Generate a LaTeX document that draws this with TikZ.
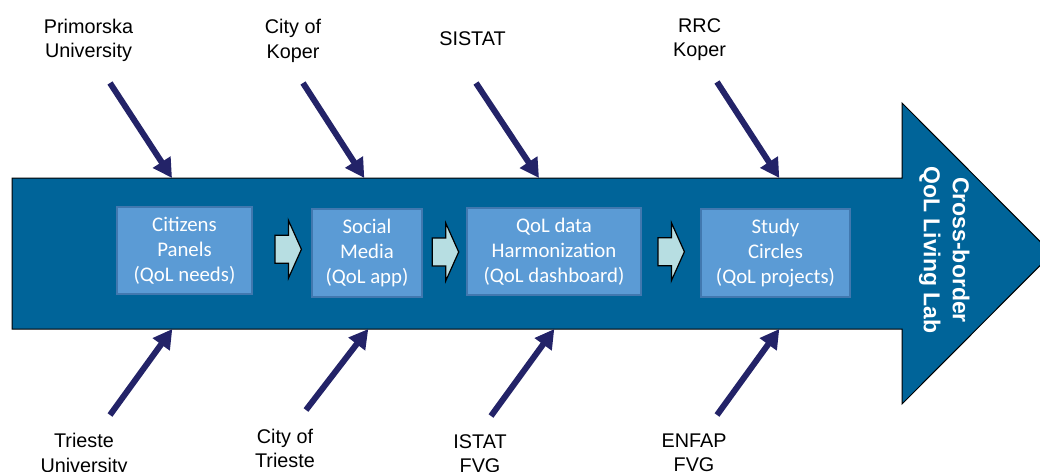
\documentclass[tikz,border=0pt]{standalone}
\usepackage{fontspec}
\setmainfont{Liberation Sans}
\newfontfamily\boxfont{Carlito}
\usetikzlibrary{arrows.meta}
\definecolor{mainblue}{RGB}{0,100,153}
\definecolor{boxblue}{RGB}{91,155,213}
\definecolor{boxedge}{RGB}{65,120,175}
\definecolor{flowcyan}{RGB}{183,222,226}
\definecolor{navyink}{RGB}{35,35,104}
\newcommand\stagearrow[2]{\path[flowarrow] (#1,#2-14) -- (#1+13.4,#2-14) -- (#1+13.4,#2-29) -- (#1+26.4,#2) -- (#1+13.4,#2+29) -- (#1+13.4,#2+14) -- (#1,#2+14) -- cycle;}
\begin{document}
\begin{tikzpicture}[x=1pt,y=-1pt,
  stagebox/.style={draw=boxedge, line width=1.2pt, fill=boxblue, text=white,
    font=\boxfont\fontsize{20.8}{25}\selectfont, align=center, inner sep=0pt},
  partner/.style={font=\fontsize{19.8}{24.8}\selectfont, align=center, anchor=base, inner sep=0pt},
  feed/.style={draw=navyink, line width=6pt, -{Triangle[length=19pt,width=20pt]}},
  flowarrow/.style={draw=black, line width=1.2pt, fill=flowcyan, line join=miter},
  mainshape/.style={draw=black, line width=1pt, fill=mainblue, line join=miter}
]
\useasboundingbox (0,0) rectangle (1040,471);
\clip (0,0) rectangle (1040,471);
% main arrow
\path[mainshape] (12,178) -- (902,178) -- (902,103) -- (1052,253.5) -- (902,404) -- (902,329) -- (12,329) -- cycle;
\node[font=\bfseries\fontsize{23}{29}\selectfont, text=white, rotate=-90, align=center, inner sep=0pt] (lab) at (944.3,250) {Cross-border\\QoL Living Lab};
% stage boxes
\node[stagebox, minimum width=135pt, minimum height=87pt] (panels) at (184.5,250.5) {Citizens\\Panels\\(QoL needs)};
\node[stagebox, minimum width=110pt, minimum height=88pt] (media) at (367,253) {Social\\Media\\(QoL app)};
\node[stagebox, minimum width=174pt, minimum height=87pt] (harmon) at (554,251.5) {QoL data\\Harmonization\\(QoL dashboard)};
\node[stagebox, minimum width=149pt, minimum height=88pt] (circles) at (775.5,253) {Study\\Circles\\(QoL projects)};
% flow arrows
\stagearrow{275}{249.3}
\stagearrow{432.3}{252}
\stagearrow{658}{251.7}
% partner labels (anchor = baseline of last line)
\node[partner] (pu) at (88.5,57.8) {Primorska\\University};
\node[partner] (ck) at (293,58.5) {City of\\Koper};
\node[partner] (ss) at (472.5,45) {SISTAT};
\node[partner] (rk) at (699.6,56.8) {RRC\\Koper};
\node[partner] (tu) at (84,472.5) {Trieste\\University};
\node[partner] (ct) at (285,467.8) {City of\\Trieste};
\node[partner] (if) at (480,472.8) {ISTAT\\FVG};
\node[partner] (ef) at (694,471.8) {ENFAP\\FVG};
% feed arrow ends
\coordinate (pu-s) at (110,83);  \coordinate (pu-t) at (172,178);
\coordinate (ck-s) at (303,83);  \coordinate (ck-t) at (364.3,178);
\coordinate (ss-s) at (476,83);  \coordinate (ss-t) at (539,178);
\coordinate (rk-s) at (717,82);  \coordinate (rk-t) at (779.3,178);
\coordinate (tu-s) at (110,415); \coordinate (tu-t) at (172.3,329);
\coordinate (ct-s) at (306,410); \coordinate (ct-t) at (368.3,329);
\coordinate (if-s) at (491,416); \coordinate (if-t) at (554.3,329);
\coordinate (ef-s) at (717,415); \coordinate (ef-t) at (779.3,329);
\foreach \p in {pu,ck,ss,rk,tu,ct,if,ef}{\draw[feed] (\p-s) -- (\p-t);}
\end{tikzpicture}
\end{document}
